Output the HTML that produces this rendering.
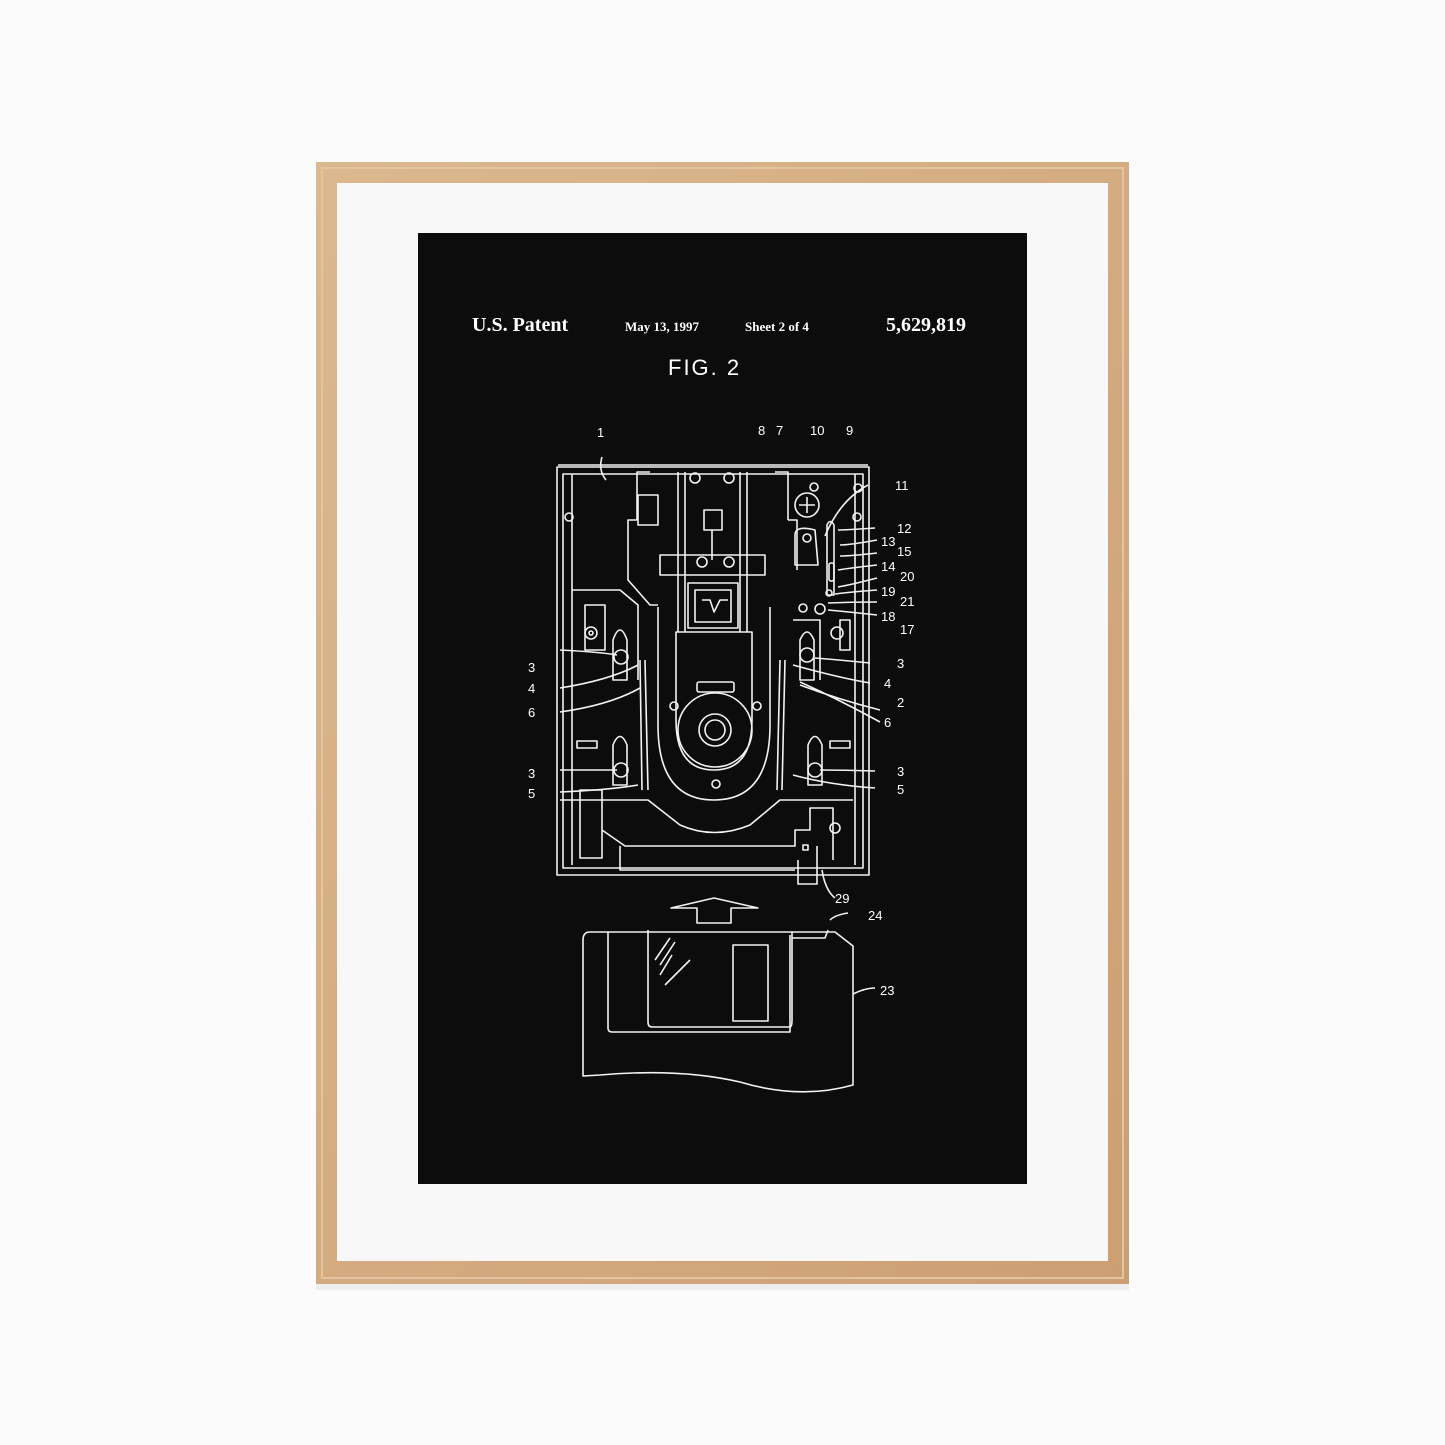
<!DOCTYPE html>
<html><head><style>
html,body{margin:0;padding:0;background:#fff;width:1445px;height:1445px;overflow:hidden}
</style></head><body>
<svg width="1445" height="1445" viewBox="0 0 1445 1445" xmlns="http://www.w3.org/2000/svg">
<defs>
<linearGradient id="w" x1="0" y1="0" x2="1" y2="1">
<stop offset="0" stop-color="#dcb88f"/><stop offset="1" stop-color="#cc9f72"/></linearGradient>
</defs>
<rect width="1445" height="1445" fill="#fbfbfb"/>
<rect x="316" y="1284" width="813" height="6" fill="#eeeeee"/>
<rect x="316" y="162" width="813" height="1122" fill="url(#w)"/>
<rect x="322" y="168" width="801" height="1110" fill="none" stroke="#e3c4a0" stroke-width="2"/>
<rect x="337" y="183" width="771" height="1078" fill="#f8f8f8"/>
<rect x="418" y="233" width="609" height="951" fill="#0c0c0c"/>
<g fill="#fff" font-family="Liberation Serif, serif">
<text x="472" y="331" font-size="20" font-weight="bold">U.S. Patent</text>
<text x="625" y="331" font-size="13" font-weight="bold">May 13, 1997</text>
<text x="745" y="331" font-size="13" font-weight="bold">Sheet 2 of 4</text>
<text x="886" y="331" font-size="20" font-weight="bold">5,629,819</text>
</g>
<text x="668" y="375" fill="#fff" font-family="Liberation Sans, sans-serif" font-size="22" letter-spacing="2">FIG. 2</text>
<g fill="none" stroke="#f2f2f2" stroke-width="1.6" stroke-linejoin="round">
<path d="M557 467 H869 V875 H557 Z"/>
<path d="M563 474 H863 V868 H563 Z"/>
<path d="M572 474 V865 M855 474 V865"/>
<path d="M558 465 H868"/>
<path d="M637 520 V472 H650 M637 520 H628 V580 L650 605 H658"/>
<path d="M788 520 V472 H775 M788 520 H797 V570"/>
<path d="M678 472 V632 M747 472 V632 M685 472 V632 M740 472 V632"/>
<path d="M660 555 H765 V575 H660 Z"/>
<path d="M688 583 H738 V628 H688 Z M695 590 H731 V622 H695 Z"/>
<path d="M702 600 L710 600 L714 612 L720 600 L728 600"/>
<path d="M704 510 H722 V530 H704 Z M712 530 V560"/>
<rect x="638" y="495" width="20" height="30"/>
<circle cx="695" cy="478" r="5"/><circle cx="729" cy="478" r="5"/>
<circle cx="702" cy="562" r="5"/><circle cx="729" cy="562" r="5"/>
<path d="M658 607 V725 Q658 800 714 800 Q770 800 770 725 V607"/>
<path d="M676 632 V720 Q676 770 714 770 Q752 770 752 720 V632 Z"/>
<rect x="697" y="682" width="37" height="10" rx="2"/>
<circle cx="715" cy="730" r="37"/><circle cx="715" cy="730" r="16"/><circle cx="715" cy="730" r="10"/>
<circle cx="674" cy="706" r="4"/><circle cx="757" cy="706" r="4"/>
<circle cx="716" cy="784" r="4"/>
<path d="M572 590 H620 L638 605 V680 M585 605 V650 H605 V605 Z"/>
<circle cx="591" cy="633" r="6"/><circle cx="591" cy="633" r="2"/>
<path d="M613 640 Q620 620 627 640 V680 H613 Z"/>
<circle cx="621" cy="657" r="7"/>
<path d="M613 745 Q620 728 627 745 V785 H613 Z"/>
<circle cx="621" cy="770" r="7"/>
<rect x="577" y="741" width="20" height="7"/>
<circle cx="569" cy="517" r="4"/>
<path d="M640 660 L642 790 M645 660 L648 790"/>
<circle cx="807" cy="505" r="12"/><path d="M807 497 V513 M799 505 H815"/>
<circle cx="814" cy="487" r="4"/><circle cx="858" cy="488" r="4"/><circle cx="857" cy="517" r="4"/>
<path d="M795 535 Q795 525 815 530 L818 565 H795 Z"/>
<circle cx="807" cy="538" r="4"/>
<path d="M827 525 Q830 518 834 525 V595 H827 Z"/>
<rect x="829" y="563" width="5" height="18" rx="2"/>
<circle cx="829" cy="593" r="3"/>
<circle cx="820" cy="609" r="5"/><circle cx="803" cy="608" r="4"/>
<path d="M793 620 H820 V680 M840 620 H850 V650 H840 Z"/>
<circle cx="837" cy="633" r="6"/>
<path d="M800 640 Q807 624 814 640 V680 H800 Z"/><circle cx="807" cy="655" r="7"/>
<path d="M808 745 Q815 728 822 745 V785 H808 Z"/><circle cx="815" cy="770" r="7"/>
<rect x="830" y="741" width="20" height="7"/>
<path d="M785 660 L782 790 M780 660 L777 790"/>
<path d="M560 800 H648 L680 825 Q714 840 750 825 L780 800 H853"/>
<path d="M580 790 H602 V858 H580 Z"/>
<path d="M602 830 L625 846 H795 V830 H810 V808 H833 V860"/>
<path d="M620 846 V870 H795"/>
<path d="M798 860 V884 H817 V846"/>
<rect x="803" y="845" width="5" height="5"/>
<circle cx="835" cy="828" r="5"/>
<path d="M671 908 L714 898 L758 908 H731 V923 H697 V908 Z"/>
<path d="M583 940 Q583 932 590 932 H835 L853 946 V1085 Q800 1100 740 1082 Q680 1068 600 1075 L583 1076 Z"/>
<path d="M608 932 V1028 Q608 1032 612 1032 H790 V935"/>
<path d="M648 930 V1022 Q648 1027 652 1027 H790 Q792 1027 792 1020 V932"/>
<rect x="733" y="945" width="35" height="76"/>
<path d="M792 938 H825 L828 930"/>
<path d="M655 960 L670 938 M660 965 L675 942 M665 985 L690 960 M660 975 L672 955"/>
<path d="M560 650 Q600 652 617 655 M560 688 Q610 680 638 665 M560 712 Q610 705 640 688"/>
<path d="M560 770 Q600 770 617 770 M560 792 Q610 790 638 785"/>
<path d="M870 663 Q840 660 815 658 M870 683 Q840 678 793 665 M880 710 Q840 700 800 685 M880 722 Q840 700 800 682"/>
<path d="M875 771 Q845 770 820 770 M875 788 Q830 785 793 775"/>
<path d="M822 870 Q825 890 835 898 M848 913 Q835 915 830 920 M853 994 Q865 988 875 988"/>
<path d="M868 485 Q840 500 825 536 M875 528 Q845 530 838 530 M877 540 Q850 545 840 545 M877 553 Q850 556 840 556 M877 565 Q850 568 838 570 M877 578 Q850 585 838 587 M877 590 Q850 592 835 594 M877 602 Q850 602 828 603 M877 615 Q850 612 828 610"/>
<path d="M602 457 Q598 470 606 480"/>
</g>
<g fill="#fff" font-family="Liberation Sans, sans-serif" font-size="13">
<text x="597" y="437">1</text>
<text x="758" y="435">8</text><text x="776" y="435">7</text><text x="810" y="435">10</text><text x="846" y="435">9</text>
<text x="895" y="490">11</text><text x="897" y="533">12</text><text x="881" y="546">13</text><text x="897" y="556">15</text>
<text x="881" y="571">14</text><text x="900" y="581">20</text><text x="881" y="596">19</text><text x="900" y="606">21</text>
<text x="881" y="621">18</text><text x="900" y="634">17</text>
<text x="528" y="672">3</text><text x="528" y="693">4</text><text x="528" y="717">6</text>
<text x="528" y="778">3</text><text x="528" y="798">5</text>
<text x="897" y="668">3</text><text x="884" y="688">4</text><text x="897" y="707">2</text><text x="884" y="727">6</text>
<text x="897" y="776">3</text><text x="897" y="794">5</text>
<text x="835" y="903">29</text><text x="868" y="920">24</text><text x="880" y="995">23</text>
</g>
</svg>
</body></html>
